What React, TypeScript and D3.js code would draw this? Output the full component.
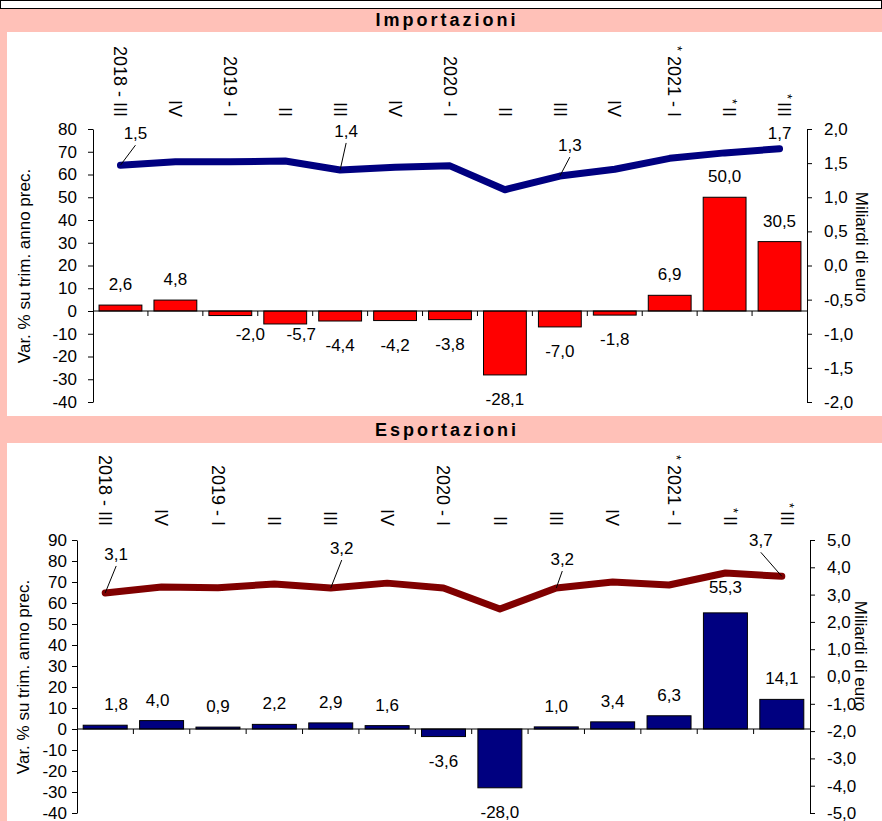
import React, { useEffect, useRef } from 'react';
import * as d3 from 'd3';

// Quarters on the x axis (an asterisk marks provisional data)
const quarters = ["2018 - III", "IV", "2019 - I", "II", "III", "IV", "2020 - I", "II", "III", "IV", "2021 - I", "II", "III"];
const provisional = [false, false, false, false, false, false, false, false, false, false, true, true, true];

// Imports: % change on same quarter of previous year (bars) and value in billions (line)
const importChange = [2.6, 4.8, -2.0, -5.7, -4.4, -4.2, -3.8, -28.1, -7.0, -1.8, 6.9, 50.0, 30.5];
const importValue = [1.47, 1.52, 1.52, 1.53, 1.40, 1.44, 1.46, 1.11, 1.31, 1.41, 1.57, 1.65, 1.71];

// Exports
const exportChange = [1.8, 4.0, 0.9, 2.2, 2.9, 1.6, -3.6, -28.0, 1.0, 3.4, 6.3, 55.3, 14.1];
const exportValue = [3.06, 3.28, 3.25, 3.39, 3.24, 3.42, 3.24, 2.47, 3.24, 3.46, 3.35, 3.79, 3.67];

// Which line points get a value label
const importLabelled = [0, 4, 8, 12];
const exportLabelled = [0, 4, 8, 12];

const leftAxisTitle = "Var. % su trim. anno prec.";
const rightAxisTitle = "Miliardi di euro";

const W = 882;
const H = 821;
const PINK = "#FFC1B8";
const FONT = "'Liberation Sans', Arial, sans-serif";

const it = d3.formatLocale({ decimal: ",", thousands: ".", grouping: [3], currency: ["", " €"], minus: "-" });
const fmt1 = it.format(".1f");
const fmt0 = it.format(".0f");

interface Panel {
  title: string;
  titleY: number;
  bandTop: number;
  panelTop: number;
  panelBottom: number;
  x0: number;
  x1: number;
  yTop: number;
  yBottom: number;
  leftDomain: [number, number];
  leftStep: number;
  rightDomain: [number, number];
  rightStep: number;
  leftPad: number;
  rightPad: number;
  catEndY: number;
  leftTitle: [number, number];
  rightTitle: [number, number];
  bars: number[];
  line: number[];
  labelled: number[];
  barColor: string;
  lineColor: string;
  // label placement tweaks (screen px)
  callouts: { dx: number; dy: number; leader: boolean }[];
  barNudge: Record<number, [number, number]>;
}

const panels: Panel[] = [
  {
    title: "Importazioni", titleY: 26, bandTop: 9, panelTop: 32, panelBottom: 416,
    x0: 93, x1: 807, yTop: 129, yBottom: 402,
    leftDomain: [-40, 80], leftStep: 10, rightDomain: [-2, 2], rightStep: 0.5,
    leftPad: 11, rightPad: 12, catEndY: 117,
    leftTitle: [24, 266], rightTitle: [862, 247],
    bars: importChange, line: importValue, labelled: importLabelled,
    barColor: "#FF0000", lineColor: "#000080",
    callouts: [
      { dx: 15, dy: -32, leader: true },
      { dx: 6, dy: -39, leader: true },
      { dx: 10, dy: -31, leader: true },
      { dx: 0, dy: -16, leader: false },
    ],
    barNudge: { 2: [20, -6], 3: [16, -14] },
  },
  {
    title: "Esportazioni", titleY: 436, bandTop: 416, panelTop: 443, panelBottom: 821,
    x0: 77, x1: 810, yTop: 540, yBottom: 813,
    leftDomain: [-40, 90], leftStep: 10, rightDomain: [-5, 5], rightStep: 1,
    leftPad: 5, rightPad: 12, catEndY: 526,
    leftTitle: [23, 677], rightTitle: [861, 656],
    bars: exportChange, line: exportValue, labelled: exportLabelled,
    barColor: "#000080", lineColor: "#800000",
    callouts: [
      { dx: 11, dy: -39, leader: true },
      { dx: 11, dy: -40, leader: true },
      { dx: 6, dy: -29, leader: true },
      { dx: -21, dy: -36, leader: true },
    ],
    barNudge: { 0: [11, 0], 1: [-4, 0], 11: [0, -5] },
  },
];

function drawPanel(svg: d3.Selection<SVGSVGElement, unknown, null, undefined>, p: Panel) {
  // pink title band and white plot area
  svg.append("rect").attr("x", 0).attr("y", p.bandTop).attr("width", W).attr("height", p.panelTop - p.bandTop).attr("fill", PINK);
  svg.append("rect").attr("x", 7).attr("y", p.panelTop).attr("width", W - 7).attr("height", p.panelBottom - p.panelTop).attr("fill", "#fff");

  svg.append("text")
    .attr("x", 447).attr("y", p.titleY)
    .attr("text-anchor", "middle")
    .style("font-size", "18px").style("font-weight", "bold").style("letter-spacing", "3px")
    .text(p.title);

  const x = d3.scaleBand<number>()
    .domain(d3.range(quarters.length))
    .range([p.x0, p.x1])
    .paddingInner(0.22)
    .paddingOuter(0.11);
  const yL = d3.scaleLinear().domain(p.leftDomain).range([p.yBottom, p.yTop]);
  const yR = d3.scaleLinear().domain(p.rightDomain).range([p.yBottom, p.yTop]);
  const y0 = yL(0);
  const step = x.step();

  // axes
  const leftTicks = d3.range(p.leftDomain[0], p.leftDomain[1] + 0.001, p.leftStep);
  const gl = svg.append("g").attr("transform", `translate(${p.x0},0)`)
    .call(d3.axisLeft(yL).tickValues(leftTicks).tickFormat(d => fmt0(d as number)).tickSizeInner(5).tickSizeOuter(0).tickPadding(p.leftPad));
  const rightTicks = d3.range(p.rightDomain[0], p.rightDomain[1] + 0.001, p.rightStep);
  const gr = svg.append("g").attr("transform", `translate(${p.x1},0)`)
    .call(d3.axisRight(yR).tickValues(rightTicks).tickFormat(d => fmt1(d as number)).tickSizeInner(5).tickSizeOuter(0).tickPadding(p.rightPad));
  [gl, gr].forEach(g => {
    g.selectAll("text").style("font-size", "17px").style("font-family", FONT).attr("fill", "#000");
    g.selectAll("line,path").attr("stroke", "#000");
  });

  svg.append("text")
    .attr("transform", `translate(${p.leftTitle[0]},${p.leftTitle[1]}) rotate(-90)`)
    .attr("text-anchor", "middle").attr("dy", "0.35em")
    .style("font-size", "17px")
    .text(leftAxisTitle);
  svg.append("text")
    .attr("transform", `translate(${p.rightTitle[0]},${p.rightTitle[1]}) rotate(90)`)
    .attr("text-anchor", "middle").attr("dy", "0.35em")
    .style("font-size", "17px")
    .text(rightAxisTitle);

  // bars
  svg.append("g").selectAll("rect")
    .data(p.bars)
    .join("rect")
    .attr("x", (_, i) => x(i)!)
    .attr("width", x.bandwidth())
    .attr("y", d => Math.min(yL(d), y0))
    .attr("height", d => Math.abs(yL(d) - y0))
    .attr("fill", p.barColor)
    .attr("stroke", "#000")
    .attr("stroke-width", 1);

  // category axis on zero
  svg.append("line").attr("x1", p.x0).attr("x2", p.x1).attr("y1", y0).attr("y2", y0).attr("stroke", "#000");
  svg.append("g").selectAll("line")
    .data(d3.range(1, quarters.length))
    .join("line")
    .attr("x1", i => p.x0 + i * step).attr("x2", i => p.x0 + i * step)
    .attr("y1", y0).attr("y2", y0 + 5)
    .attr("stroke", "#000");

  // bar value labels
  svg.append("g").selectAll("text")
    .data(p.bars)
    .join("text")
    .attr("x", (_, i) => x(i)! + x.bandwidth() / 2 + (p.barNudge[i]?.[0] ?? 0))
    .attr("y", (d, i) => (d >= 0 ? yL(d) - 15 : yL(d) + 30) + (p.barNudge[i]?.[1] ?? 0))
    .attr("text-anchor", "middle")
    .style("font-size", "17px")
    .text(d => fmt1(d));

  // line
  const line = d3.line<number>()
    .x((_, i) => x(i)! + x.bandwidth() / 2)
    .y(d => yR(d));
  svg.append("path")
    .datum(p.line)
    .attr("d", line)
    .attr("fill", "none")
    .attr("stroke", p.lineColor)
    .attr("stroke-width", 7)
    .attr("stroke-linejoin", "round")
    .attr("stroke-linecap", "round");

  // line value labels with leaders
  p.labelled.forEach((idx, k) => {
    const c = p.callouts[k];
    const px = x(idx)! + x.bandwidth() / 2;
    const py = yR(p.line[idx]);
    const lx = px + c.dx;
    const ly = py + c.dy;
    if (c.leader) {
      svg.append("line")
        .attr("x1", lx).attr("y1", ly + 12)
        .attr("x2", px).attr("y2", py)
        .attr("stroke", "#000").attr("stroke-width", 1);
    }
    svg.append("text")
      .attr("x", lx).attr("y", ly)
      .attr("dy", "0.35em")
      .attr("text-anchor", "middle")
      .style("font-size", "17px")
      .text(fmt1(p.line[idx]));
  });

  // rotated category labels
  quarters.forEach((q, i) => {
    const cx = x(i)! + x.bandwidth() / 2;
    const t = svg.append("text")
      .attr("transform", `translate(${cx},${p.catEndY}) rotate(90)`)
      .attr("text-anchor", "end")
      .attr("dy", "0.35em")
      .style("font-size", "18px");
    if (provisional[i]) {
      t.append("tspan").attr("dy", "-0.25em").style("font-size", "13px").text("*");
      t.append("tspan").attr("dy", "0.25em").attr("dx", q.includes("-") ? 0 : 3).text(q.includes("-") ? " " + q : q);
    } else {
      t.text(q);
    }
  });
}

export default function App() {
  const svgRef = useRef<SVGSVGElement>(null);

  useEffect(() => {
    if (!svgRef.current) return;
    const svg = d3.select(svgRef.current);
    svg.selectAll("*").remove();

    svg.append("rect").attr("width", W).attr("height", H).attr("fill", PINK);
    // thin frame at the top
    svg.append("rect").attr("x", 0.5).attr("y", 0.5).attr("width", W - 1).attr("height", 8)
      .attr("fill", "#fff").attr("stroke", "#000");

    panels.forEach(p => drawPanel(svg, p));
  }, []);

  return (
    <svg
      ref={svgRef}
      width={W}
      height={H}
      style={{ position: "absolute", left: 0, top: 0, fontFamily: FONT }}
    />
  );
}
